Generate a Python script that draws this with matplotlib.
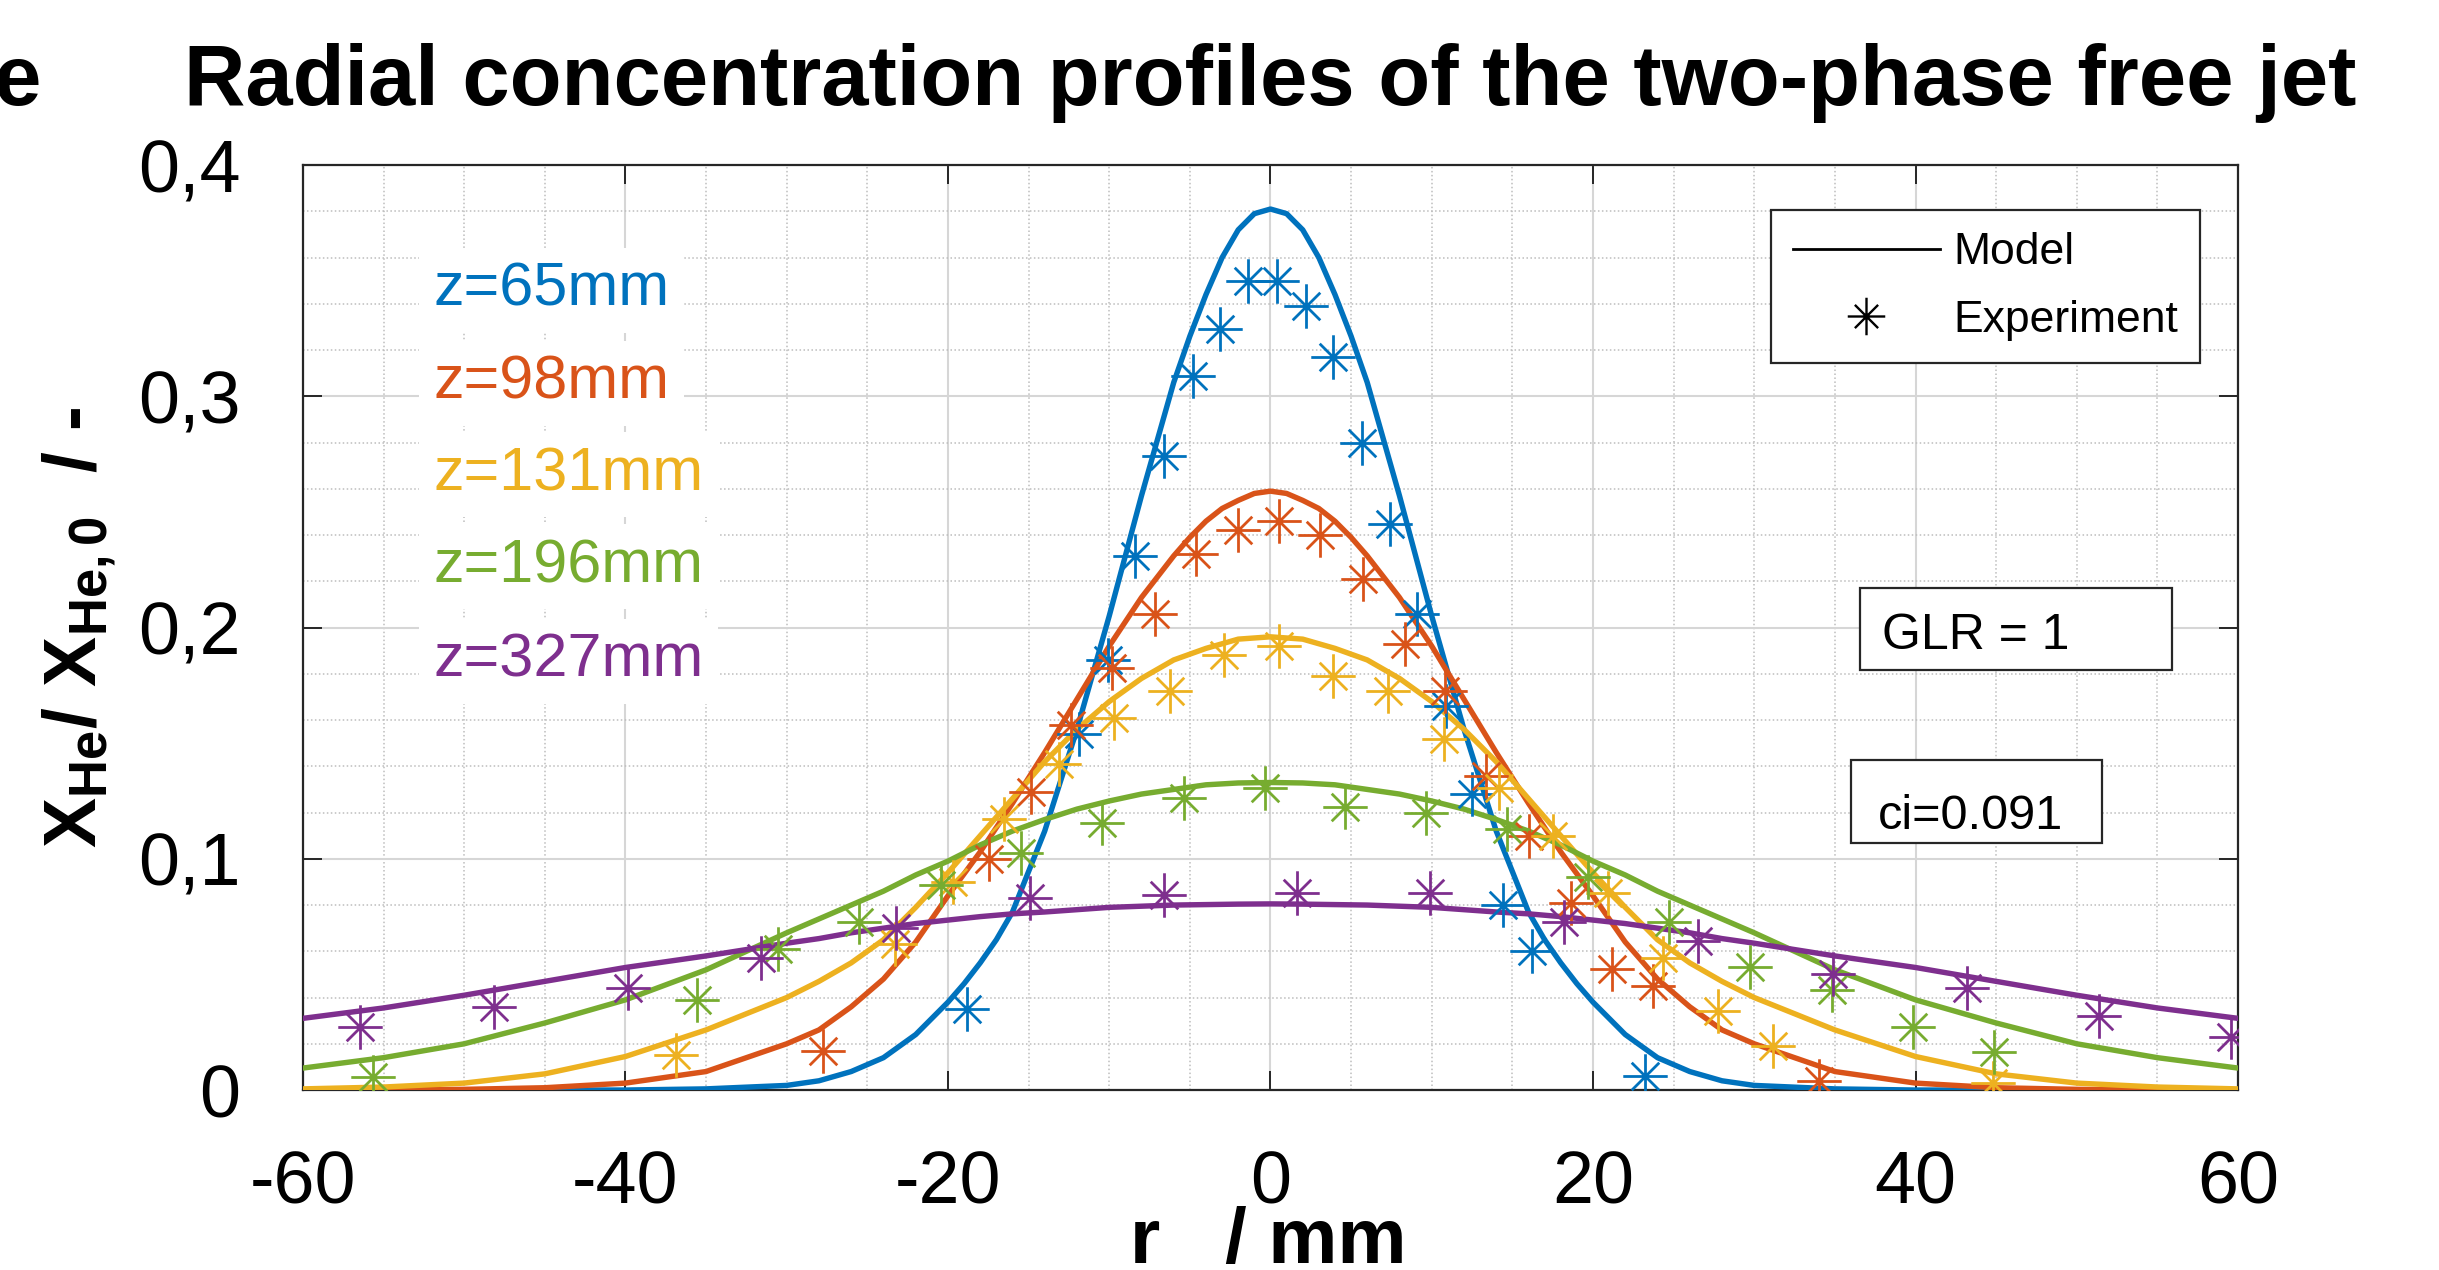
import matplotlib
matplotlib.use('Agg')
import matplotlib.pyplot as plt
from matplotlib.path import Path
from matplotlib.lines import Line2D
from matplotlib.patches import Rectangle
from matplotlib.ticker import MultipleLocator

plt.rcParams['font.family'] = ['Liberation Sans', 'DejaVu Sans']
plt.rcParams['mathtext.fontset'] = 'custom'
plt.rcParams['mathtext.rm'] = 'Liberation Sans'
plt.rcParams['mathtext.bf'] = 'Liberation Sans:bold'
plt.rcParams['mathtext.it'] = 'Liberation Sans:italic'

# MATLAB default colour order
COLORS = ['#0072BD', '#D95319', '#EDB120', '#77AC30', '#7E2F8E']
LABELS = ['z=65mm', 'z=98mm', 'z=131mm', 'z=196mm', 'z=327mm']

# Model curves (finer steps where the curve bends most)
r_model_65 = [-60, -40, -35, -30, -28, -26, -24, -22, -20, -19, -18, -17, -16, -15, -14, -13, -12, -11, -10, -9, -8,
              -7, -6, -5, -4, -3, -2, -1, 0, 1, 2, 3, 4, 5, 6, 7, 8, 9, 10, 11, 12, 13, 14, 15, 16, 17, 18, 19, 20,
              22, 24, 26, 28, 30, 35, 40, 60]
model_65 = [0, 0, 0.0005, 0.002, 0.004, 0.008, 0.014, 0.024, 0.038, 0.046, 0.055, 0.065, 0.077, 0.0945, 0.112, 0.134,
            0.156, 0.1805, 0.205, 0.231, 0.257, 0.2815, 0.306, 0.326, 0.344, 0.360, 0.372, 0.379, 0.381, 0.379, 0.372,
            0.360, 0.344, 0.326, 0.306, 0.2815, 0.257, 0.231, 0.205, 0.1805, 0.156, 0.134, 0.112, 0.0945, 0.077,
            0.065, 0.055, 0.046, 0.038, 0.024, 0.014, 0.008, 0.004, 0.002, 0.0005, 0, 0]

r_model_98 = [-60, -55, -50, -45, -40, -35, -30, -28, -26, -24, -22, -20, -18, -16, -14, -13, -12, -11, -10, -9, -8,
              -7, -6, -5, -4, -3, -2, -1, 0, 1, 2, 3, 4, 5, 6, 7, 8, 9, 10, 11, 12, 13, 14, 16, 18, 20, 22, 24, 26,
              28, 30, 35, 40, 45, 50, 55, 60]
model_98 = [0, 0, 0.0003, 0.001, 0.003, 0.008, 0.020, 0.026, 0.036, 0.048, 0.064, 0.084, 0.103, 0.124, 0.146, 0.1575,
            0.169, 0.1805, 0.192, 0.2025, 0.213, 0.222, 0.231, 0.239, 0.246, 0.2515, 0.255, 0.258, 0.259, 0.258,
            0.255, 0.2515, 0.246, 0.239, 0.231, 0.222, 0.213, 0.2025, 0.192, 0.1805, 0.169, 0.1575, 0.146, 0.124,
            0.103, 0.084, 0.064, 0.048, 0.036, 0.026, 0.020, 0.008, 0.003, 0.001, 0.0003, 0, 0]

r_model = [-60, -55, -50, -45, -40, -35, -30, -28, -26, -24, -22, -20, -18, -16, -14, -12, -10, -8, -6, -4, -2,
           0, 2, 4, 6, 8, 10, 12, 14, 16, 18, 20, 22, 24, 26, 28, 30, 35, 40, 45, 50, 55, 60]
model_131 = [0.0005, 0.0013, 0.003, 0.007, 0.0145, 0.026, 0.040, 0.047, 0.055, 0.065, 0.079, 0.094, 0.110, 0.126,
             0.142, 0.156, 0.168, 0.178, 0.186, 0.191, 0.195, 0.196, 0.195, 0.191, 0.186, 0.178, 0.168, 0.156, 0.142,
             0.126, 0.110, 0.094, 0.079, 0.065, 0.055, 0.047, 0.040, 0.026, 0.0145, 0.007, 0.003, 0.0013, 0.0005]
model_196 = [0.0095, 0.014, 0.020, 0.029, 0.039, 0.052, 0.068, 0.074, 0.080, 0.086, 0.093, 0.099, 0.106, 0.112,
             0.117, 0.1215, 0.125, 0.128, 0.130, 0.132, 0.1328, 0.133, 0.1328, 0.132, 0.130, 0.128, 0.125, 0.1215,
             0.117, 0.112, 0.106, 0.099, 0.093, 0.086, 0.080, 0.074, 0.068, 0.052, 0.039, 0.029, 0.020, 0.014, 0.0095]
model_327 = [0.031, 0.0355, 0.041, 0.047, 0.053, 0.058, 0.0635, 0.0655, 0.068, 0.070, 0.072, 0.0735, 0.075, 0.0762,
             0.077, 0.078, 0.079, 0.0795, 0.080, 0.0802, 0.0804, 0.0805, 0.0804, 0.0802, 0.080, 0.0795, 0.079, 0.078,
             0.077, 0.0762, 0.075, 0.0735, 0.072, 0.070, 0.068, 0.0655, 0.0635, 0.058, 0.053, 0.047, 0.041, 0.0355,
             0.031]

# Experimental points
r_exp_65 = [-18.8, -11.9, -10.1, -8.4, -6.6, -4.8, -3.1, -1.4, 0.4, 2.2, 3.9, 5.7, 7.4, 9.1, 10.9, 12.5, 14.4,
            16.2, 23.2]
x_exp_65 = [0.035, 0.154, 0.186, 0.231, 0.274, 0.309, 0.329, 0.350, 0.350, 0.339, 0.317, 0.280, 0.245, 0.206, 0.166,
            0.128, 0.080, 0.060, 0.006]
r_exp_98 = [-27.75, -17.46, -14.84, -12.36, -9.8, -7.15, -4.6, -2.0, 0.55, 3.1, 5.72, 8.32, 10.8, 13.37, 16.02,
            18.64, 21.18, 23.7, 34.04]
x_exp_98 = [0.017, 0.100, 0.129, 0.158, 0.1825, 0.206, 0.232, 0.242, 0.246, 0.240, 0.221, 0.193, 0.1725, 0.136,
            0.110, 0.081, 0.0525, 0.045, 0.004]
r_exp_131 = [-36.85, -23.3, -19.7, -16.5, -13.1, -9.7, -6.26, -2.86, 0.53, 3.9, 7.3, 10.74, 14.16, 17.5, 20.9,
             24.36, 27.73, 31.14, 44.78]
x_exp_131 = [0.015, 0.063, 0.090, 0.117, 0.141, 0.161, 0.1725, 0.188, 0.192, 0.179, 0.1724, 0.152, 0.1305, 0.110,
             0.085, 0.057, 0.034, 0.019, 0.003]
r_exp_196 = [-55.65, -35.54, -30.54, -25.52, -20.46, -15.46, -10.44, -5.39, -0.37, 4.65, 9.65, 14.65, 19.67, 24.74,
             29.75, 34.82, 39.82, 44.85]
x_exp_196 = [0.0056, 0.039, 0.061, 0.0727, 0.0886, 0.1024, 0.1154, 0.1262, 0.1306, 0.1226, 0.1197, 0.1128, 0.0923,
             0.0727, 0.0534, 0.0431, 0.0272, 0.0164]
r_exp_327 = [-56.44, -48.15, -39.84, -31.58, -23.25, -14.94, -6.63, 1.65, 9.92, 18.23, 26.49, 34.86, 43.19, 51.39,
             59.56]
x_exp_327 = [0.0272, 0.036, 0.044, 0.057, 0.070, 0.083, 0.0843, 0.085, 0.0853, 0.0727, 0.0645, 0.050, 0.044, 0.032,
             0.023]

x_ticks = [-60, -40, -20, 0, 20, 40, 60]
x_tick_labels = ['-60', '-40', '-20', '0', '20', '40', '60']
y_ticks = [0, 0.1, 0.2, 0.3, 0.4]
y_tick_labels = ['0', '0,1', '0,2', '0,3', '0,4']

r_models = [r_model_65, r_model_98, r_model, r_model, r_model]
models = [model_65, model_98, model_131, model_196, model_327]
r_exps = [r_exp_65, r_exp_98, r_exp_131, r_exp_196, r_exp_327]
x_exps = [x_exp_65, x_exp_98, x_exp_131, x_exp_196, x_exp_327]
label_y = [0.3392, 0.2989, 0.2594, 0.2196, 0.1788]

# MATLAB-like asterisk: '+' with shorter 'x'
star = Path([(-1, 0), (1, 0), (0, -1), (0, 1), (-0.62, -0.62), (0.62, 0.62), (-0.62, 0.62), (0.62, -0.62)],
            [Path.MOVETO, Path.LINETO] * 4)

fig = plt.figure(figsize=(24.39, 12.70), dpi=100, facecolor='w')
ax = fig.add_axes([0.1242, 0.1417, 0.7934, 0.7283])

for i in range(5):
    ax.plot(r_models[i], models[i], color=COLORS[i], lw=3.9, zorder=3, solid_joinstyle='round')
    ax.plot(r_exps[i], x_exps[i], ls='none', marker=star, ms=32, mew=2.0, mfc='none', color=COLORS[i], zorder=4)

ax.set_xlim(-60, 60)
ax.set_ylim(0, 0.4)
ax.set_xticks(x_ticks)
ax.set_xticklabels(x_tick_labels)
ax.set_yticks(y_ticks)
ax.set_yticklabels(y_tick_labels)
ax.xaxis.set_minor_locator(MultipleLocator(5))
ax.yaxis.set_minor_locator(MultipleLocator(0.02))
ax.set_axisbelow(True)
ax.grid(True, which='major', color='#d6d6d6', lw=1.5, ls='-')
ax.grid(True, which='minor', color='#bdbdbd', lw=1.1, ls=(0, (1, 1.6)))
ax.tick_params(which='major', direction='in', length=14, width=1.4, color='#262626',
               top=True, right=True, labelsize=53)
ax.tick_params(axis='x', which='major', pad=43)
ax.tick_params(axis='y', which='major', pad=45)
ax.tick_params(which='minor', length=0)
for sp in ax.spines.values():
    sp.set_color('#262626')
    sp.set_linewidth(1.6)

ax.set_title('Radial concentration profiles of the two-phase free jet', fontsize=61.2, fontweight='bold', pad=43)
fig.text(41 / 2439, 1 - 105 / 1270, 'e', fontsize=61.2, fontweight='bold', ha='right', va='baseline')

ax.set_xlabel('r   / mm', fontsize=56, fontweight='bold')
ax.xaxis.set_label_coords(0.4987, -0.125)
ax.set_ylabel(r'$\mathbf{X_{He}}$/ $\mathbf{X_{He,0}}$  / -', fontsize=54, fontweight='bold')
ax.yaxis.set_label_coords(-0.095, 0.5)

for i in range(5):
    ax.text(-51.9, label_y[i], LABELS[i], color=COLORS[i], fontsize=44, ha='left', va='baseline', zorder=5,
            bbox=dict(facecolor='white', edgecolor='none', pad=10))

handles = [Line2D([], [], color='k', lw=2.0),
           Line2D([], [], color='k', ls='none', marker=star, ms=27, mew=1.7, mfc='none')]
leg = ax.legend(handles, ['Model', 'Experiment'], loc='upper right', bbox_to_anchor=(0.9804, 0.9514),
                borderaxespad=0, fancybox=False, framealpha=1, edgecolor='#262626', fontsize=32,
                handlelength=3.3, handletextpad=0.3, labelspacing=0.6, borderpad=0.5)
leg.get_frame().set_linewidth(1.6)

# GLR and ci boxes
ax.add_patch(Rectangle((0.8047, 0.4541), 0.1612, 0.0886, transform=ax.transAxes, facecolor='white',
                       edgecolor='#262626', lw=1.6, zorder=6))
ax.text(0.816, 0.4768, 'GLR = 1', transform=ax.transAxes, fontsize=36, va='baseline', ha='left', zorder=7)
ax.add_patch(Rectangle((0.8, 0.267), 0.1297, 0.0898, transform=ax.transAxes, facecolor='white',
                       edgecolor='#262626', lw=1.6, zorder=6))
ax.text(0.814, 0.2822, 'ci=0.091', transform=ax.transAxes, fontsize=35, va='baseline', ha='left', zorder=7)

plt.savefig('out.png', dpi=100)
